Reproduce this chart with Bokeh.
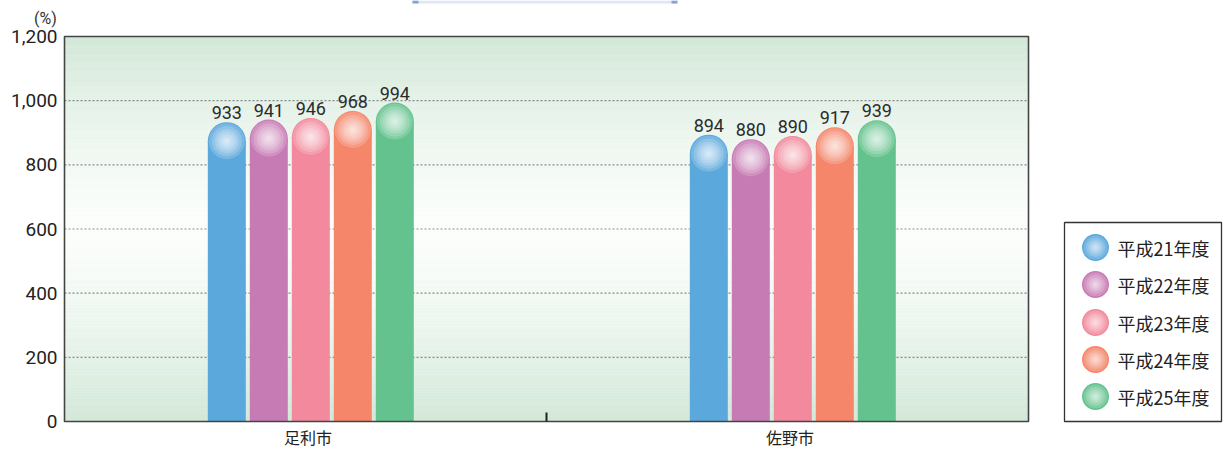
import numpy as np
from bokeh.plotting import figure
from bokeh.models import ColumnDataSource, Range1d
from bokeh.core.properties import value
from bokeh.embed import file_html
from bokeh.resources import INLINE

# ---------------- data ----------------
categories = ["足利市", "佐野市"]
series_labels = ["平成21年度", "平成22年度", "平成23年度", "平成24年度", "平成25年度"]
h21 = [933, 894]
h22 = [941, 880]
h23 = [946, 890]
h24 = [968, 917]
h25 = [994, 939]
series_values = [h21, h22, h23, h24, h25]
y_ticks = [0, 200, 400, 600, 800, 1000, 1200]
y_unit = "(%)"

colors = ["#5BA8DC", "#C77BB4", "#F2899C", "#F5866A", "#64C28E"]

# ---------------- layout constants (canvas pixels) ----------------
W, H = 1224, 449
PLOT_L, PLOT_TOP, PLOT_BOT = 64, 36, 421   # plot area in canvas px
y_max = 1200
ypx = (PLOT_BOT - PLOT_TOP) / y_max        # px per value unit
cat_px = 482                               # px per category
ncat = len(categories)
x_lo = -PLOT_L / cat_px
x_hi = (W - PLOT_L) / cat_px
y_lo = -(H - PLOT_BOT) / ypx
y_hi = y_max + PLOT_TOP / ypx

def dx(cx):          # canvas x -> data x
    return (cx - PLOT_L) / cat_px

def dy(cy):          # canvas y -> data y
    return (PLOT_BOT - cy) / ypx

bar_px = 38
bar_w = bar_px / cat_px
pitch = 42 / cat_px
r_data = (bar_px / 2) / ypx

FONT_NUM = "Roboto"
FONT_CJK = "Noto Sans CJK JP"

p = figure(width=W, height=H, x_range=Range1d(x_lo, x_hi),
           y_range=Range1d(y_lo, y_hi), output_backend="svg",
           toolbar_location=None, x_axis_type=None, y_axis_type=None,
           min_border_left=0, min_border_right=0, min_border_top=0,
           min_border_bottom=0, background_fill_color="white",
           border_fill_color="white")
p.outline_line_color = None
p.title.visible = False

# decorative strip at the top (bottom edge of a title box)
p.quad(left=[dx(412)], right=[dx(677)], top=[dy(0)], bottom=[dy(3)],
       fill_color="#DDE7F5", line_color=None)
p.quad(left=[dx(412), dx(671)], right=[dx(418), dx(677)], top=[dy(0)] * 2,
       bottom=[dy(3)] * 2, fill_color="#86A3D5", line_color=None)

# background vertical gradient (light green -> white -> light green)
nb = 240
edges = np.linspace(0, y_max, nb + 1)
mids = (edges[:-1] + edges[1:]) / 2
top_rgb = np.array([0xD2, 0xE8, 0xD8])
white = np.array([0xFC, 0xFE, 0xFC])
band_colors = []
for m in mids:
    t = (abs(m - y_max / 2) / (y_max / 2)) ** 1.4
    c = white * (1 - t) + top_rgb * t
    band_colors.append("#%02x%02x%02x" % tuple(int(round(v)) for v in c))
p.quad(left=0, right=ncat, bottom=edges[:-1], top=edges[1:],
       fill_color=band_colors, line_color=band_colors, line_width=0.6)

# dashed grid lines
inner = [t for t in y_ticks if 0 < t < y_max]
p.segment(x0=[0] * len(inner), x1=[ncat] * len(inner), y0=inner, y1=inner,
          line_color="#8a8a8a", line_dash="2 2", line_width=1.2)

# bars with rounded tops
cat_x = np.arange(ncat) + 0.5
n = len(series_values)
for i, (vals, col) in enumerate(zip(series_values, colors)):
    off = (i - (n - 1) / 2) * pitch + 0.011
    vals = np.array(vals, dtype=float)
    src = ColumnDataSource(dict(x=cat_x + off, val=vals,
                                cap=vals - r_data,
                                lab=[str(int(v)) for v in vals]))
    p.vbar(x="x", top="cap", bottom=0, width=bar_w, source=src,
           fill_color=col, line_color=None)
    p.scatter(x="x", y="cap", size=bar_px, marker="circle", source=src,
              fill_color=col, line_color=None)
    for s in [36, 30, 24, 19, 14, 9, 5]:
        p.scatter(x="x", y="cap", size=s, marker="circle", source=src,
                  fill_color="white", fill_alpha=0.18, line_color=None)
    p.text(x="x", y="val", text="lab", source=src, text_align="center",
           text_baseline="bottom", y_offset=-3, text_font=value(FONT_NUM),
           text_font_size="18px", text_color="#2b2b2b")

# plot area border
p.quad(left=[0], right=[ncat], bottom=[0], top=[y_max], fill_color=None,
       line_color="#444444", line_width=1.6)

# separator tick between categories
p.segment(x0=[ncat / 2], x1=[ncat / 2], y0=[0], y1=[9 / ypx],
          line_color="#222222", line_width=2)

# category labels (x axis)
csrc = ColumnDataSource(dict(x=cat_x + 0.005, y=[dy(436)] * ncat, t=categories))
p.text(x="x", y="y", text="t", source=csrc, text_align="center",
       text_baseline="middle", text_font=value(FONT_CJK),
       text_font_size="16px", text_color="#222222")

# y tick labels (y axis)
ysrc = ColumnDataSource(dict(x=[dx(57)] * len(y_ticks), y=y_ticks,
                             t=[f"{v:,}" for v in y_ticks]))
p.text(x="x", y="y", text="t", source=ysrc, text_align="right",
       text_baseline="middle", text_font=value(FONT_NUM),
       text_font_size="19px", text_color="#222222")

# unit label
p.text(x=[dx(45)], y=[dy(18)], text=[y_unit], text_align="center",
       text_baseline="middle", text_font=value(FONT_NUM),
       text_font_size="16px", text_color="#333333")

# ---------------- legend (drawn right of the plot area) ----------------
L, R, T = 1064, 1221, 222
p.quad(left=[dx(L)], right=[dx(R)], top=[dy(T)], bottom=[0],
       fill_color="white", line_color="#333333", line_width=1.3)
row_cy = [247, 284, 322, 359, 396]
lsrc = ColumnDataSource(dict(x=[dx(L + 31)] * len(series_labels),
                             y=[dy(c) for c in row_cy], c=colors,
                             t=series_labels,
                             tx=[dx(L + 53)] * len(series_labels)))
p.scatter(x="x", y="y", size=27, marker="circle", fill_color="c",
          line_color=None, source=lsrc)
for s in [24, 19, 14, 10, 6, 3]:
    p.scatter(x="x", y="y", size=s, marker="circle", fill_color="white",
              fill_alpha=0.18, line_color=None, source=lsrc)
p.text(x="tx", y="y", text="t", source=lsrc, text_baseline="middle",
       text_align="left", text_font=value(FONT_CJK), text_font_size="18px",
       text_color="#222222")

open("out.html", "w").write(file_html(p, INLINE))
